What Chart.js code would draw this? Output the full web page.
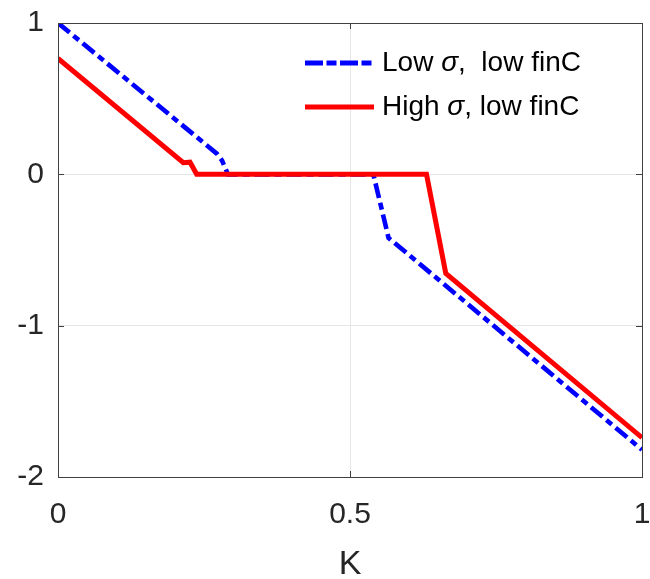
<!DOCTYPE html>
<html>
<head>
<meta charset="utf-8">
<script src="https://cdn.jsdelivr.net/npm/chart.js@4"></script>
<style>
  html, body { margin: 0; padding: 0; background: #fff; }
  #wrap { width: 650px; height: 579px; }
</style>
</head>
<body>
<div id="wrap"><canvas id="chart" width="650" height="579"></canvas></div>
<script>
// datos
const kLow = [0, 0.272, 0.281, 0.291, 0.540, 0.566, 1];
const valLow = [1, 0.137, 0.09, 0, 0, -0.42, -1.82];
const kHigh = [0, 0.2146, 0.226, 0.2375, 0.631, 0.664, 1];
const valHigh = [0.766, 0.077, 0.08, 0, 0, -0.654, -1.74];
const seriesLabels = ['Low σ,  low finC', 'High σ, low finC'];
const xTicks = [0, 0.5, 1];
const yTicks = [-2, -1, 0, 1];

const fontFam = "'Liberation Sans', Arial, sans-serif";
const axisColor = '#404040';
const textColor = '#262626';

function toPoints(xs, ys) {
    return xs.map((x, i) => ({ x: x, y: ys[i] }));
}

// ticks hacia adentro y caja completa, estilo matlab
const boxPlugin = {
    id: 'boxPlugin',
    afterDraw(chart) {
        const ctx = chart.ctx;
        const a = chart.chartArea;
        const xs = chart.scales.x, ys = chart.scales.y;
        ctx.save();
        ctx.strokeStyle = axisColor;
        ctx.lineWidth = 1;
        ctx.strokeRect(a.left + 0.5, a.top + 0.5, a.right - a.left, a.bottom - a.top);
        ctx.beginPath();
        xTicks.forEach(v => {
            const px = Math.round(xs.getPixelForValue(v)) + 0.5;
            ctx.moveTo(px, a.bottom); ctx.lineTo(px, a.bottom - 6);
            ctx.moveTo(px, a.top); ctx.lineTo(px, a.top + 6);
        });
        yTicks.forEach(v => {
            const py = Math.round(ys.getPixelForValue(v)) + 0.5;
            ctx.moveTo(a.left, py); ctx.lineTo(a.left + 6, py);
            ctx.moveTo(a.right, py); ctx.lineTo(a.right - 6, py);
        });
        ctx.stroke();
        ctx.restore();
    }
};

// leyenda dentro del area, con sigma en cursiva
const legendPlugin = {
    id: 'legendPlugin',
    afterDraw(chart) {
        const ctx = chart.ctx;
        const a = chart.chartArea;
        const rowY = [a.top + 40, a.top + 84];
        const lineX0 = 305, lineX1 = 374, textX = 382;
        ctx.save();
        chart.data.datasets.forEach((ds, i) => {
            const y = rowY[i];
            ctx.beginPath();
            ctx.strokeStyle = ds.borderColor;
            ctx.lineWidth = 5;
            ctx.setLineDash(i === 0 ? [18, 3.5, 10, 3.5] : []);
            ctx.moveTo(lineX0, y);
            ctx.lineTo(lineX1, y);
            ctx.stroke();
            ctx.setLineDash([]);
            ctx.fillStyle = '#000';
            ctx.textBaseline = 'middle';
            const parts = ds.label.split('σ');
            let x = textX;
            parts.forEach((p, j) => {
                ctx.font = '28px ' + fontFam;
                ctx.fillText(p, x, y);
                x += ctx.measureText(p).width;
                if (j < parts.length - 1) {
                    ctx.font = 'italic 28px ' + fontFam;
                    ctx.fillText('σ', x, y);
                    x += ctx.measureText('σ').width;
                }
            });
        });
        ctx.restore();
    }
};

const ctx = document.getElementById('chart').getContext('2d');
const chart = new Chart(ctx, {
    type: 'line',
    data: {
        datasets: [{
            label: seriesLabels[0],
            data: toPoints(kLow, valLow),
            borderColor: '#0000ff',
            borderWidth: 4.6,
            borderDash: [15, 5, 7, 5],
            pointRadius: 0,
            fill: false,
            tension: 0,
            order: 1
        }, {
            label: seriesLabels[1],
            data: toPoints(kHigh, valHigh),
            borderColor: '#ff0000',
            borderWidth: 5,
            pointRadius: 0,
            fill: false,
            tension: 0,
            order: 0
        }]
    },
    options: {
        responsive: false,
        animation: false,
        layout: { padding: { top: 23, right: 8, left: 0, bottom: 0 } },
        plugins: {
            legend: { display: false },
            tooltip: { enabled: false }
        },
        scales: {
            x: {
                type: 'linear',
                min: 0,
                max: 1,
                afterBuildTicks(scale) { scale.ticks = xTicks.map(v => ({ value: v })); },
                afterFit(scale) {
                    scale.height = 102;
                    scale.paddingLeft = 0;
                    scale.paddingRight = 0;
                },
                grid: { color: '#e6e6e6', drawTicks: false },
                border: { display: false },
                ticks: {
                    color: textColor,
                    padding: 20,
                    font: { family: fontFam, size: 30 },
                    callback: v => String(v)
                },
                title: {
                    display: true,
                    text: 'K',
                    color: textColor,
                    padding: { top: 4, bottom: -6 },
                    font: { family: fontFam, size: 34 }
                }
            },
            y: {
                type: 'linear',
                min: -2,
                max: 1,
                afterBuildTicks(scale) { scale.ticks = yTicks.map(v => ({ value: v })); },
                afterFit(scale) {
                    scale.width = 58;
                    scale.paddingTop = 0;
                    scale.paddingBottom = 0;
                },
                grid: { color: '#e6e6e6', drawTicks: false },
                border: { display: false },
                ticks: {
                    color: textColor,
                    padding: 14,
                    font: { family: fontFam, size: 30 },
                    callback: v => String(v)
                }
            }
        }
    },
    plugins: [boxPlugin, legendPlugin]
});
</script>
</body>
</html>
